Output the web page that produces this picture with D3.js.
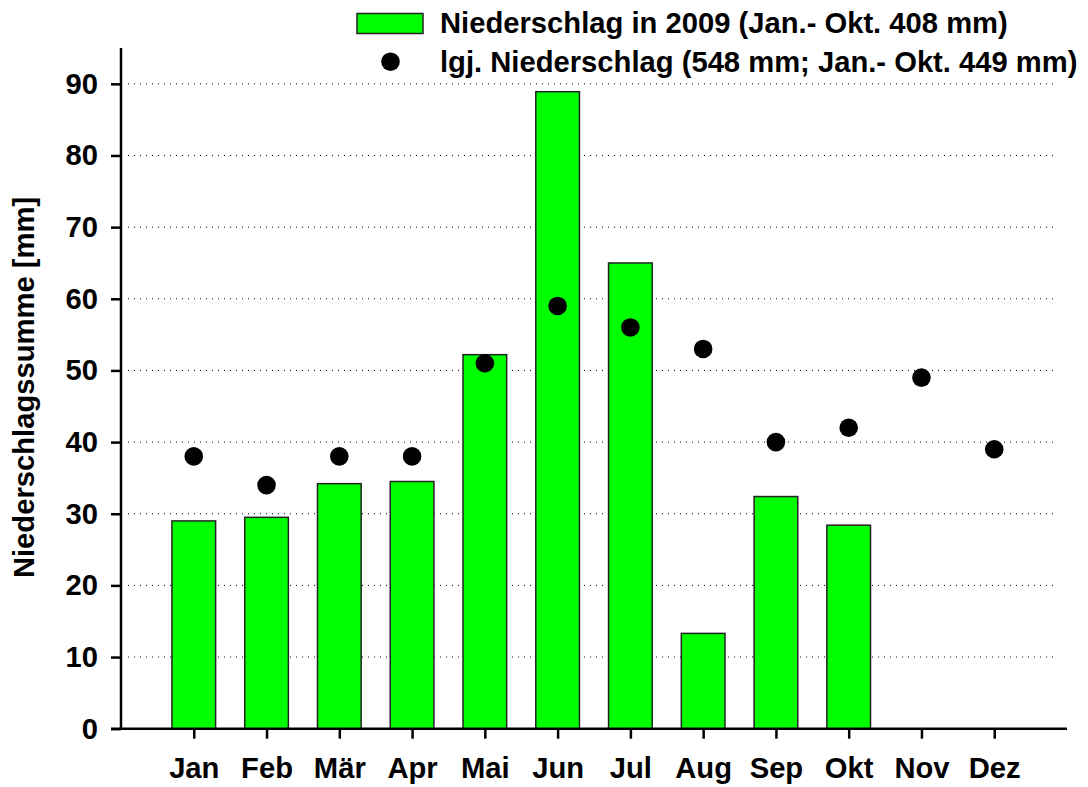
<!DOCTYPE html>
<html>
<head>
<meta charset="utf-8">
<script src="https://cdn.jsdelivr.net/npm/d3@7"></script>
<style>
  body { margin: 0; background: #fff; }
  text { font-family: "Liberation Sans", Arial, sans-serif; font-weight: bold; }
</style>
</head>
<body>
<svg width="1088" height="787"></svg>
<script>
const months = ['Jan', 'Feb', 'Mär', 'Apr', 'Mai', 'Jun', 'Jul', 'Aug', 'Sep', 'Okt', 'Nov', 'Dez'];
const rain2009 = [29.0, 29.5, 34.2, 34.5, 52.2, 88.9, 65.0, 13.3, 32.4, 28.4, null, null];
const rainLongTerm = [38, 34, 38, 38, 51, 59, 56, 53, 40, 42, 49, 39];
const yTicks = [0, 10, 20, 30, 40, 50, 60, 70, 80, 90];
const legendLabels = ['Niederschlag in 2009 (Jan.- Okt. 408 mm)', 'lgj. Niederschlag (548 mm; Jan.- Okt. 449 mm)'];

const svg = d3.select('svg');
const mLeft = 121, mRight = 1067, mTop = 48, mBottom = 728.7;
const fs = 29.2;

const x = d3.scalePoint().domain(months).range([mLeft, mRight]).padding(1);
const y = d3.scaleLinear().domain([0, 95]).range([mBottom, mTop]);
const barW = x.step() * 0.6;

// grid lines
svg.append('g')
    .selectAll('line')
    .data(yTicks.filter(d => d > 0))
    .join('line')
    .attr('x1', mLeft + 7)
    .attr('x2', 1057)
    .attr('y1', d => y(d))
    .attr('y2', d => y(d))
    .attr('stroke', '#000')
    .attr('stroke-width', 1)
    .attr('stroke-dasharray', '1,5');

// bars
svg.append('g')
    .selectAll('rect')
    .data(months.map((m, i) => ({ m, v: rain2009[i] })).filter(d => d.v != null))
    .join('rect')
    .attr('x', d => x(d.m) - barW / 2)
    .attr('y', d => y(d.v))
    .attr('width', barW)
    .attr('height', d => y(0) - y(d.v))
    .attr('fill', '#00ff00')
    .attr('stroke', '#222')
    .attr('stroke-width', 1.5);

// dots
svg.append('g')
    .selectAll('circle')
    .data(months.map((m, i) => ({ m, v: rainLongTerm[i] })))
    .join('circle')
    .attr('cx', d => x(d.m))
    .attr('cy', d => y(d.v))
    .attr('r', 9.3)
    .attr('fill', '#000');

// y axis
const yAxis = svg.append('g')
    .attr('transform', `translate(${mLeft},0)`)
    .call(d3.axisLeft(y).tickValues(yTicks).tickSize(10).tickPadding(13));
yAxis.select('.domain').attr('stroke-width', 2.5).attr('d', `M0,${mTop}V${mBottom}`);
yAxis.selectAll('.tick line').attr('stroke-width', 2.5);
yAxis.selectAll('.tick text')
    .attr('font-size', fs)
    .attr('font-family', '"Liberation Sans", Arial, sans-serif')
    .attr('font-weight', 'bold')
    .attr('fill', '#000');

// x axis
const xAxis = svg.append('g')
    .attr('transform', `translate(0,${mBottom})`)
    .call(d3.axisBottom(x).tickSize(10).tickPadding(19));
xAxis.select('.domain').attr('stroke-width', 2.5).attr('d', `M${mLeft - 10},0H${mRight}`);
xAxis.selectAll('.tick line').attr('stroke-width', 2.5);
xAxis.selectAll('.tick text')
    .attr('font-size', fs)
    .attr('font-family', '"Liberation Sans", Arial, sans-serif')
    .attr('font-weight', 'bold')
    .attr('fill', '#000');

// y label
svg.append('text')
    .attr('transform', `translate(34,387.5) rotate(-90)`)
    .attr('text-anchor', 'middle')
    .attr('font-size', fs)
    .text('Niederschlagssumme [mm]');

// legend
const lg = svg.append('g');
lg.append('rect')
    .attr('x', 357).attr('y', 13.5)
    .attr('width', 66).attr('height', 20)
    .attr('fill', '#00ff00')
    .attr('stroke', '#222')
    .attr('stroke-width', 1.5);
lg.append('circle')
    .attr('cx', 390.5).attr('cy', 61.7).attr('r', 9.3).attr('fill', '#000');
lg.selectAll('text.leg')
    .data(legendLabels)
    .join('text')
    .attr('class', 'leg')
    .attr('x', 440)
    .attr('y', (d, i) => 33 + i * 39)
    .attr('font-size', fs)
    .text(d => d);
</script>
</body>
</html>
